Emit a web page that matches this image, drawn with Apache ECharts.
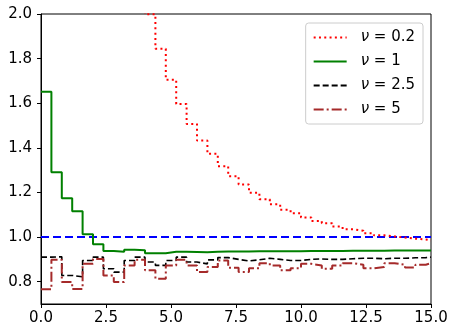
<!DOCTYPE html>
<html lang="en">
<head>
  <meta charset="UTF-8">
  <title>nu steps</title>
  <style>
    html, body { margin: 0; padding: 0; background: #fff; }
    #chart { width: 457px; height: 336px; }
  </style>
</head>
<body>
<div id="chart"></div>
<script src="https://cdn.jsdelivr.net/npm/echarts@6/dist/echarts.min.js"></script>
<script>
  // step start positions (each value is held until the next one)
  const stepX = [0, 0.4, 0.8, 1.2, 1.6, 2.0, 2.4, 2.8, 3.2, 3.6, 4.0, 4.4, 4.8, 5.2, 5.6, 6.0,
    6.4, 6.8, 7.2, 7.6, 8.0, 8.4, 8.8, 9.2, 9.6, 10.0, 10.4, 10.8, 11.2, 11.6, 12.0, 12.4,
    12.8, 13.2, 13.6, 14.0, 14.4, 14.8];
  const xEnd = 15;

  const nu02 = [12.0, 6.5, 4.6, 3.7, 3.1, 2.7, 2.48, 2.32, 2.19, 2.09, 1.999, 1.844, 1.705,
    1.597, 1.507, 1.433, 1.373, 1.318, 1.273, 1.236, 1.199, 1.17, 1.147, 1.122, 1.107, 1.088,
    1.072, 1.062, 1.047, 1.035, 1.028, 1.017, 1.008, 1.003, 0.998, 0.993, 0.989, 0.985];
  const nu1 = [1.652, 1.291, 1.174, 1.116, 1.013, 0.968, 0.938, 0.934, 0.943, 0.941, 0.928,
    0.928, 0.934, 0.934, 0.933, 0.932, 0.934, 0.935, 0.935, 0.935, 0.936, 0.936, 0.937, 0.937,
    0.937, 0.938, 0.938, 0.938, 0.938, 0.939, 0.939, 0.939, 0.939, 0.94, 0.94, 0.94, 0.94, 0.94];
  const nu25 = [0.91, 0.912, 0.828, 0.822, 0.895, 0.91, 0.858, 0.843, 0.895, 0.91, 0.888,
    0.873, 0.895, 0.91, 0.888, 0.88, 0.898, 0.908, 0.9, 0.893, 0.898, 0.905, 0.9, 0.895, 0.895,
    0.9, 0.902, 0.9, 0.9, 0.903, 0.905, 0.905, 0.903, 0.905, 0.905, 0.907, 0.908, 0.91];
  const nu5 = [0.766, 0.898, 0.799, 0.767, 0.88, 0.902, 0.828, 0.799, 0.873, 0.898, 0.851,
    0.813, 0.873, 0.898, 0.873, 0.843, 0.866, 0.895, 0.862, 0.843, 0.86, 0.883, 0.873, 0.851,
    0.86, 0.88, 0.873, 0.858, 0.873, 0.883, 0.876, 0.86, 0.866, 0.883, 0.876, 0.864, 0.876, 0.883];
  const refLevel = 1.0;

  const yTicks = [0.8, 1.0, 1.2, 1.4, 1.6, 1.8, 2.0];
  const names = ['0.2', '1', '2.5', '5'];

  function stepData(vals) {
    const out = stepX.map((x, i) => [x, vals[i]]);
    out.push([xEnd, vals[vals.length - 1]]);
    return out;
  }

  const font = 'DejaVu Sans';
  const chart = echarts.init(document.getElementById('chart'), null, {renderer: 'canvas'});

  function lineSeries(label, vals, color, type, width) {
    return {
      name: label,
      type: 'line',
      step: 'end',
      symbol: 'none',
      silent: true,
      animation: false,
      clip: true,
      data: stepData(vals),
      lineStyle: {color: color, width: width, type: type, cap: 'butt'},
      itemStyle: {color: color}
    };
  }

  chart.setOption({
    animation: false,
    grid: {
      left: 41, right: 26, top: 14, bottom: 32,
      show: true, borderColor: '#000', borderWidth: 1, backgroundColor: 'transparent'
    },
    legend: {
      data: names,
      orient: 'vertical',
      right: 34, top: 23,
      padding: [6, 8, 6, 7],
      itemWidth: 33, itemHeight: 12, itemGap: 7,
      backgroundColor: 'rgba(255,255,255,0.8)',
      borderColor: '#cccccc', borderWidth: 1, borderRadius: 3,
      itemStyle: {opacity: 0},
      formatter: n => '{i|ν} = ' + n,
      textStyle: {
        fontFamily: font, fontSize: 15, color: '#000', lineHeight: 17,
        rich: {i: {fontFamily: font, fontSize: 15, fontStyle: 'italic', color: '#000', padding: [0, 0, 0, 9]}}
      }
    },
    xAxis: {
      type: 'value', min: 0, max: 15, interval: 2.5,
      axisLine: {show: true, onZero: false, lineStyle: {color: '#000', width: 1}},
      axisTick: {show: true, length: 4, lineStyle: {color: '#000', width: 1}},
      axisLabel: {
        fontFamily: font, fontSize: 15, color: '#000', margin: 7,
        formatter: v => v.toFixed(1), showMinLabel: true, showMaxLabel: true
      },
      splitLine: {show: false}
    },
    yAxis: {
      type: 'value', min: 0.7, max: 2.0,
      axisLine: {show: true, onZero: false, lineStyle: {color: '#000', width: 1}},
      axisTick: {show: true, length: 4, customValues: yTicks, lineStyle: {color: '#000', width: 1}},
      axisLabel: {
        fontFamily: font, fontSize: 15, color: '#000', margin: 9,
        customValues: yTicks, formatter: v => v.toFixed(1)
      },
      splitLine: {show: false}
    },
    series: [
      {
        name: 'ref',
        type: 'line',
        symbol: 'none',
        silent: true,
        data: [[0, refLevel], [xEnd, refLevel]],
        lineStyle: {color: '#0000ff', width: 2, type: [8, 4], cap: 'butt'},
        z: 1
      },
      lineSeries('0.2', nu02, '#ff0000', [2, 3.3], 2),
      lineSeries('1', nu1, '#008000', 'solid', 2),
      lineSeries('2.5', nu25, '#000000', [6, 3], 1.6),
      lineSeries('5', nu5, '#a52a2a', [10, 3, 2, 3], 2)
    ]
  });
</script>
</body>
</html>
